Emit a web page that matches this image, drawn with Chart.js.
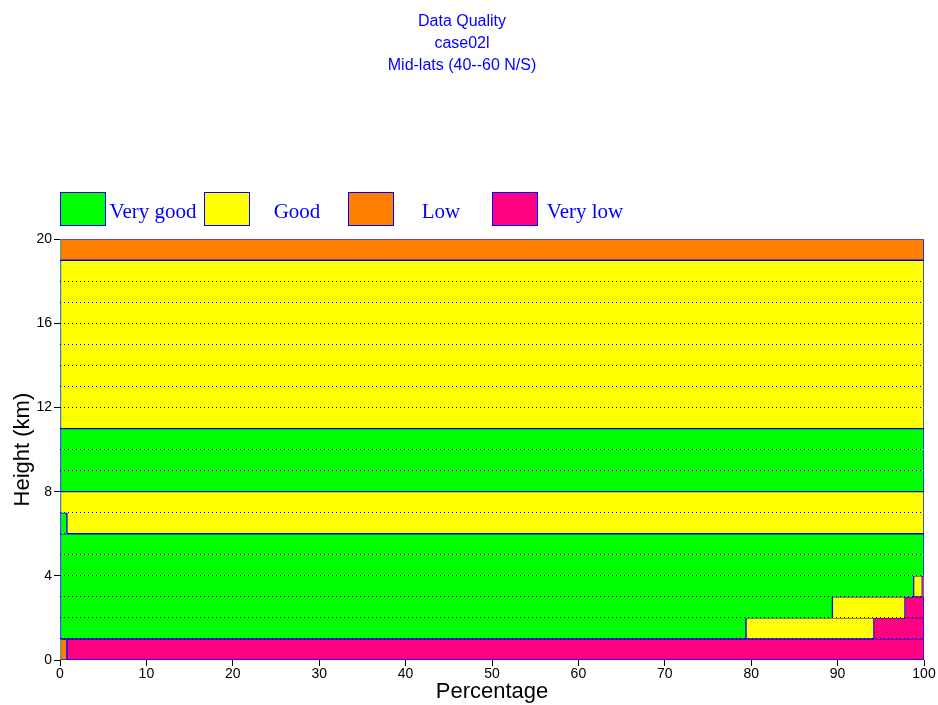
<!DOCTYPE html>
<html lang="en">
<head>
  <meta charset="UTF-8" />
  <title>Data Quality</title>
  <script src="https://cdn.jsdelivr.net/npm/chart.js"></script>
  <style>
    body {
      margin: 0;
      background: #fff;
    }

    .wrap {
      position: relative;
      width: 938px;
      height: 705px;
    }

    #legend {
      position: absolute;
      left: 60px;
      top: 192px;
      display: flex;
      font-family: 'Liberation Serif', 'Times New Roman', serif;
      font-size: 21px;
      color: #0000ff;
    }

    .item {
      display: flex;
      align-items: center;
    }

    .swatch {
      width: 44px;
      height: 32px;
      border: 1px solid #0000ff;
    }

    .label {
      width: 98px;
      text-align: center;
      position: relative;
      top: 2px;
      left: -2px;
    }
  </style>
</head>
<body>
  <div class="wrap">
    <canvas id="qualityChart" width="938" height="705"></canvas>
    <div id="legend"></div>
  </div>

  <script>
    // height bins (km, centre of each 1 km layer)
    const heightBins = [0.5, 1.5, 2.5, 3.5, 4.5, 5.5, 6.5, 7.5, 8.5, 9.5,
                        10.5, 11.5, 12.5, 13.5, 14.5, 15.5, 16.5, 17.5, 18.5, 19.5];

    const categories = ["Very good", "Good", "Low", "Very low"];
    const colors = ["#00ff00", "#ffff00", "#ff8000", "#ff0080"];

    // percentage per layer, bottom to top
    const veryGood = [0, 79.4, 89.4, 98.8, 100, 100, 0.8, 0, 100, 100, 100, 0, 0, 0, 0, 0, 0, 0, 0, 0];
    const good     = [0, 14.8, 8.4, 1.0, 0, 0, 99.2, 100, 0, 0, 0, 100, 100, 100, 100, 100, 100, 100, 100, 0];
    const low      = [0.8, 0, 0, 0, 0, 0, 0, 0, 0, 0, 0, 0, 0, 0, 0, 0, 0, 0, 0, 100];
    const veryLow  = [99.2, 5.8, 2.2, 0.2, 0, 0, 0, 0, 0, 0, 0, 0, 0, 0, 0, 0, 0, 0, 0, 0];

    const xTicks = [0, 10, 20, 30, 40, 50, 60, 70, 80, 90, 100];
    const yTicks = [0, 4, 8, 12, 16, 20];

    const series = [veryGood, good, low, veryLow];

    // start/end of a segment inside one layer
    const span = (d, i) => {
      let s = 0;
      for (let k = 0; k < d; k++) s += series[k][i];
      return [s, s + series[d][i]];
    };

    // outline an edge unless it is mostly shared with the same class next layer
    const needEdge = (d, i, j) => {
      if (j < 0 || j >= heightBins.length || series[d][j] === 0) return 1;
      const a = span(d, i), b = span(d, j);
      const shared = Math.max(0, Math.min(a[1], b[1]) - Math.max(a[0], b[0]));
      const own = a[1] - a[0];
      return (own - shared) > shared ? 1 : 0;
    };

    const edgeWidth = (ctx) => {
      const d = ctx.datasetIndex, i = ctx.dataIndex;
      if (!series[d] || series[d][i] === 0) return 0;
      return {
        left: 1,
        right: 1,
        top: needEdge(d, i, i + 1),
        bottom: needEdge(d, i, i - 1)
      };
    };

    const datasets = categories.map((name, d) => ({
      label: name,
      data: series[d].map((v, i) => ({ x: v, y: heightBins[i] })),
      backgroundColor: colors[d],
      borderColor: "#0000ff",
      borderWidth: edgeWidth,
      borderSkipped: false,
      barPercentage: 1,
      categoryPercentage: 1
    }));

    const legend = document.getElementById("legend");
    categories.forEach((name, d) => {
      legend.innerHTML += `<div class="item"><div class="swatch" style="background:${colors[d]}"></div><div class="label">${name}</div></div>`;
    });

    const font = "'Liberation Sans', Arial, sans-serif";

    new Chart(document.getElementById("qualityChart"), {
      type: "bar",
      data: { datasets },
      options: {
        indexAxis: "y",
        responsive: false,
        animation: false,
        layout: { padding: { left: 0, right: 14, bottom: 0 } },
        plugins: {
          legend: { display: false },
          tooltip: { enabled: false },
          title: {
            display: true,
            text: ["Data Quality", "case02l", "Mid-lats (40--60 N/S)"],
            color: "#0000ff",
            font: { family: font, size: 16, weight: "normal", lineHeight: 1.4 },
            padding: { top: 10, bottom: 162 }
          }
        },
        scales: {
          x: {
            type: "linear",
            stacked: true,
            min: 0,
            max: 100,
            afterBuildTicks: (scale) => { scale.ticks = xTicks.map(v => ({ value: v })); },
            afterFit: (scale) => { scale.height = 45; },
            ticks: { color: "#000", font: { family: font, size: 14 }, padding: 0, maxRotation: 0 },
            grid: { drawOnChartArea: false, tickLength: 6, tickColor: "#000" },
            border: { display: false },
            title: {
              display: true,
              text: "Percentage",
              color: "#000",
              font: { family: font, size: 22 },
              padding: 0
            }
          },
          y: {
            type: "linear",
            stacked: true,
            offset: false,
            min: 0,
            max: 20,
            ticks: {
              stepSize: 1,
              color: "#000",
              font: { family: font, size: 14 },
              padding: 2,
              callback: (v) => yTicks.includes(v) ? v : ""
            },
            afterFit: (scale) => { scale.width = 60; },
            grid: {
              offset: false,
              z: 1,
              color: (ctx) => (ctx.tick && ctx.tick.value > 0 && ctx.tick.value < 20) ? "#000" : "rgba(0,0,0,0)",
              lineWidth: 1,
              tickLength: 6,
              tickColor: (ctx) => (ctx.tick && yTicks.includes(ctx.tick.value)) ? "#000" : "rgba(0,0,0,0)",
              tickBorderDash: []
            },
            border: { display: false, dash: [1, 3] },
            title: {
              display: true,
              text: "Height (km)",
              color: "#000",
              font: { family: font, size: 22 },
              padding: { top: 10, bottom: 0 }
            }
          }
        }
      }
    });
  </script>
</body>
</html>
